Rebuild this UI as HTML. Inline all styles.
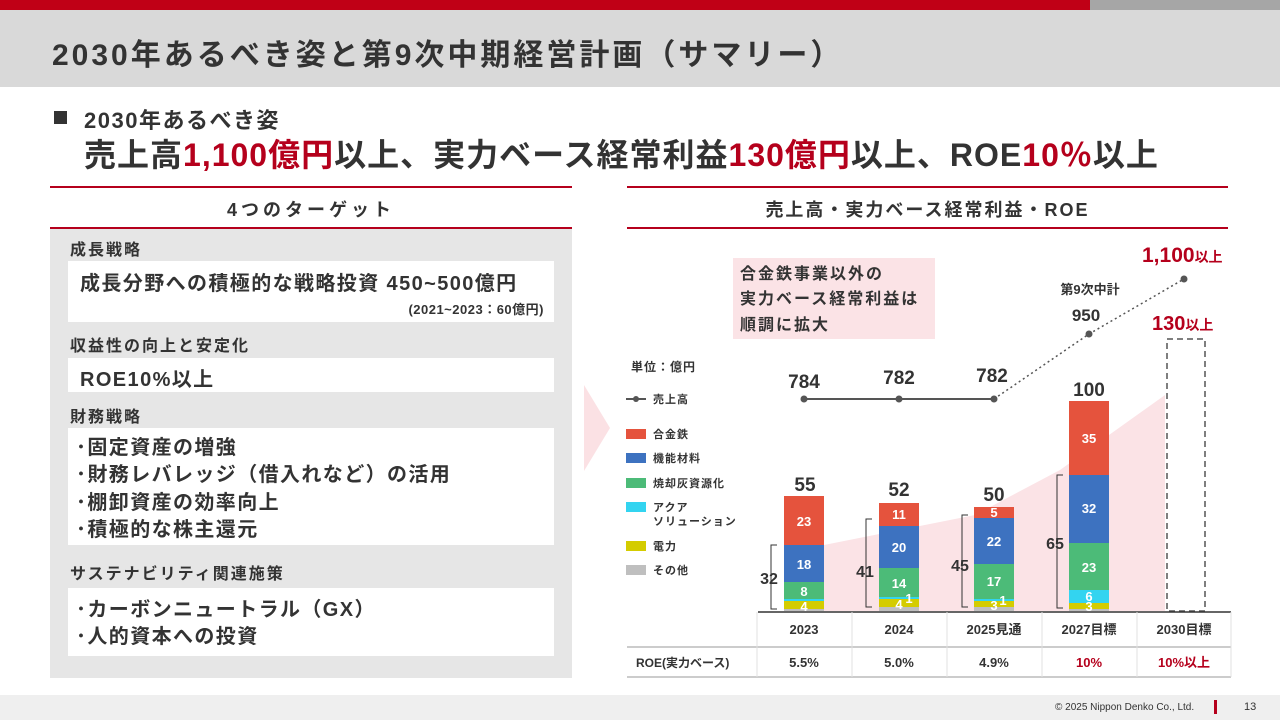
<!DOCTYPE html>
<html><head><meta charset="utf-8">
<style>
*{margin:0;padding:0;box-sizing:border-box}
body{width:1280px;height:720px;position:relative;background:#fff;font-family:"Liberation Sans","Noto Sans CJK JP",sans-serif;color:#333;overflow:hidden}
.a{position:absolute;white-space:nowrap}
.b{font-weight:bold}
.box{position:absolute;background:#fff;left:68px;width:486px}
.lbl{position:absolute;left:70px;font-size:16px;font-weight:bold;color:#333;letter-spacing:2px;white-space:nowrap}
.li{font-size:20px;font-weight:bold;position:absolute;left:80px;letter-spacing:1.4px;white-space:nowrap}
</style></head><body>
<div class="a" style="left:0;top:0;width:1090px;height:10px;background:#c00016"></div>
<div class="a" style="left:1090px;top:0;width:190px;height:10px;background:#a6a6a6"></div>
<div class="a" style="left:0;top:10px;width:1280px;height:77px;background:#d9d9d9"></div>
<div class="a b" style="left:52px;top:30px;font-size:30px;color:#333;letter-spacing:3px">2030年あるべき姿と第9次中期経営計画（サマリー）</div>

<div class="a" style="left:54px;top:111px;width:13px;height:13px;background:#333"></div>
<div class="a b" style="left:84px;top:103px;font-size:22px;letter-spacing:1.5px">2030年あるべき姿</div>
<div class="a b" style="left:84px;top:130px;font-size:32px;letter-spacing:1px">売上高<span style="color:#b5001c">1,100億円</span>以上、実力ベース経常利益<span style="color:#b5001c">130億円</span>以上、ROE<span style="color:#b5001c">10％</span>以上</div>

<div class="a" style="left:50px;top:186px;width:522px;height:2px;background:#b5001c"></div>
<div class="a b" style="left:50px;top:196px;width:522px;text-align:center;font-size:18px;letter-spacing:4px">4つのターゲット</div>
<div class="a" style="left:50px;top:227px;width:522px;height:2px;background:#b5001c"></div>
<div class="a" style="left:50px;top:229px;width:522px;height:449px;background:#e6e6e6"></div>
<div class="lbl" style="top:236px">成長戦略</div>
<div class="box" style="top:261px;height:61px"></div>
<div class="li" style="top:267px">成長分野への積極的な戦略投資 450~500億円</div>
<div class="a b" style="right:736px;top:299px;font-size:13px;letter-spacing:0.5px">(2021~2023：60億円)</div>
<div class="lbl" style="top:332px">収益性の向上と安定化</div>
<div class="box" style="top:358px;height:34px"></div>
<div class="li" style="top:363px">ROE10%以上</div>
<div class="lbl" style="top:403px">財務戦略</div>
<div class="box" style="top:428px;height:117px"></div>
<div class="li" style="top:431px;left:76px">･固定資産の増強</div>
<div class="li" style="top:458px;left:76px">･財務レバレッジ（借入れなど）の活用</div>
<div class="li" style="top:486px;left:76px">･棚卸資産の効率向上</div>
<div class="li" style="top:513px;left:76px">･積極的な株主還元</div>
<div class="lbl" style="top:560px">サステナビリティ関連施策</div>
<div class="box" style="top:588px;height:68px"></div>
<div class="li" style="top:593px;left:76px">･カーボンニュートラル（GX）</div>
<div class="li" style="top:620px;left:76px">･人的資本への投資</div>

<div class="a" style="left:627px;top:186px;width:601px;height:2px;background:#b5001c"></div>
<div class="a b" style="left:627px;top:196px;width:601px;text-align:center;font-size:18px;letter-spacing:2px">売上高・実力ベース経常利益・ROE</div>
<div class="a" style="left:627px;top:227px;width:601px;height:2px;background:#b5001c"></div>

<svg class="a" style="left:0;top:0" width="1280" height="720" font-family="Liberation Sans, Noto Sans CJK JP, sans-serif">
<polygon points="584,385 610,428 584,471 584,471" fill="#fbe1e4"/>
<polygon points="824,611 824,545 975,515 1060,470 1165,395 1165,611" fill="#fbe3e6"/>
<rect x="733" y="258" width="202" height="81" fill="#fbe3e6"/>
<g font-size="16" font-weight="bold" fill="#333" letter-spacing="2">
<text x="740" y="279">合金鉄事業以外の</text>
<text x="740" y="304">実力ベース経常利益は</text>
<text x="740" y="330">順調に拡大</text>
</g>
<g font-size="11" fill="#333" font-weight="bold" letter-spacing="1">
<text x="631" y="371" font-size="12">単位：億円</text>
<line x1="626" y1="399" x2="646" y2="399" stroke="#555" stroke-width="2"/><circle cx="636" cy="399" r="3" fill="#555"/>
<text x="653" y="403">売上高</text>
<rect x="626" y="429" width="20" height="10" fill="#e5533d"/><text x="653" y="438">合金鉄</text>
<rect x="626" y="453" width="20" height="10" fill="#3d72c0"/><text x="653" y="462">機能材料</text>
<rect x="626" y="478" width="20" height="10" fill="#4cbb78"/><text x="653" y="487">焼却灰資源化</text>
<rect x="626" y="502" width="20" height="10" fill="#33d4f0"/><text x="653" y="511">アクア</text><text x="653" y="525">ソリューション</text>
<rect x="626" y="541" width="20" height="10" fill="#d4cc00"/><text x="653" y="550">電力</text>
<rect x="626" y="565" width="20" height="10" fill="#bfbfbf"/><text x="653" y="574">その他</text>
</g>
<g>
<rect x="784" y="609" width="40" height="2" fill="#bfbfbf"/>
<rect x="784" y="601" width="40" height="8" fill="#d4cc00"/>
<rect x="784" y="599" width="40" height="2" fill="#33d4f0"/>
<rect x="784" y="582" width="40" height="17" fill="#4cbb78"/>
<rect x="784" y="545" width="40" height="37" fill="#3d72c0"/>
<rect x="784" y="496" width="40" height="49" fill="#e5533d"/>
<rect x="879" y="607" width="40" height="4" fill="#bfbfbf"/>
<rect x="879" y="599" width="40" height="8" fill="#d4cc00"/>
<rect x="879" y="597" width="40" height="2" fill="#33d4f0"/>
<rect x="879" y="568" width="40" height="29" fill="#4cbb78"/>
<rect x="879" y="526" width="40" height="42" fill="#3d72c0"/>
<rect x="879" y="503" width="40" height="23" fill="#e5533d"/>
<rect x="974" y="607" width="40" height="4" fill="#bfbfbf"/>
<rect x="974" y="601" width="40" height="6" fill="#d4cc00"/>
<rect x="974" y="599" width="40" height="2" fill="#33d4f0"/>
<rect x="974" y="564" width="40" height="35" fill="#4cbb78"/>
<rect x="974" y="518" width="40" height="46" fill="#3d72c0"/>
<rect x="974" y="507" width="40" height="11" fill="#e5533d"/>
<rect x="1069" y="609" width="40" height="2" fill="#bfbfbf"/>
<rect x="1069" y="603" width="40" height="6" fill="#d4cc00"/>
<rect x="1069" y="590" width="40" height="13" fill="#33d4f0"/>
<rect x="1069" y="543" width="40" height="47" fill="#4cbb78"/>
<rect x="1069" y="475" width="40" height="68" fill="#3d72c0"/>
<rect x="1069" y="401" width="40" height="74" fill="#e5533d"/>
<rect x="1167" y="339" width="38" height="272" fill="none" stroke="#555" stroke-width="1.5" stroke-dasharray="6,4"/>
</g>
<g font-size="13" font-weight="bold" fill="#fff" text-anchor="middle">
<text x="804" y="526">23</text><text x="804" y="569">18</text><text x="804" y="596">8</text><text x="804" y="611">4</text>
<text x="899" y="519">11</text><text x="899" y="552">20</text><text x="899" y="588">14</text><text x="899" y="609">4</text><text x="909" y="603">1</text>
<text x="994" y="517">5</text><text x="994" y="546">22</text><text x="994" y="586">17</text><text x="994" y="610">3</text><text x="1003" y="605">1</text>
<text x="1089" y="443">35</text><text x="1089" y="513">32</text><text x="1089" y="572">23</text><text x="1089" y="601">6</text><text x="1089" y="611">3</text>
</g>
<g fill="none" stroke="#333" stroke-width="1">
<path d="M777,545 H771 V609 H777"/>
<path d="M872,519 H866 V607 H872"/>
<path d="M968,515 H962 V607 H968"/>
<path d="M1063,475 H1057 V608 H1063"/>
</g>
<g font-size="16" font-weight="bold" fill="#333" text-anchor="middle">
<text x="769" y="584">32</text><text x="865" y="577">41</text><text x="960" y="571">45</text><text x="1055" y="549">65</text>
</g>
<g font-size="19" font-weight="bold" fill="#333" text-anchor="middle">
<text x="805" y="491">55</text><text x="899" y="496">52</text><text x="994" y="501">50</text><text x="1089" y="396">100</text>
<text x="804" y="388">784</text><text x="899" y="384">782</text><text x="992" y="382">782</text>
<text x="1086" y="321" font-size="17">950</text>
</g>
<text x="1090" y="294" font-size="13" font-weight="bold" fill="#333" text-anchor="middle">第9次中計</text>
<text x="1142" y="262" font-size="21" font-weight="bold" fill="#b5001c">1,100<tspan font-size="14">以上</tspan></text>
<text x="1152" y="330" font-size="20" font-weight="bold" fill="#b5001c">130<tspan font-size="14">以上</tspan></text>
<polyline points="804,399 899,399 994,399" fill="none" stroke="#555" stroke-width="2"/>
<polyline points="994,399 1089,334 1184,279" fill="none" stroke="#555" stroke-width="1.5" stroke-dasharray="2,3"/>
<g fill="#555"><circle cx="804" cy="399" r="3.5"/><circle cx="899" cy="399" r="3.5"/><circle cx="994" cy="399" r="3.5"/><circle cx="1089" cy="334" r="3.5"/><circle cx="1184" cy="279" r="3.5"/></g>
<line x1="758" y1="612" x2="1231" y2="612" stroke="#333" stroke-width="1.5"/>
<line x1="627" y1="647" x2="1231" y2="647" stroke="#999" stroke-width="1"/>
<line x1="627" y1="677" x2="1231" y2="677" stroke="#999" stroke-width="1"/>
<g stroke="#e0e0e0"><line x1="757" y1="612" x2="757" y2="677"/><line x1="852" y1="612" x2="852" y2="677"/><line x1="947" y1="612" x2="947" y2="677"/><line x1="1042" y1="612" x2="1042" y2="677"/><line x1="1137" y1="612" x2="1137" y2="677"/><line x1="1231" y1="612" x2="1231" y2="677"/></g>
<g font-size="13" font-weight="bold" fill="#333" text-anchor="middle">
<text x="804" y="634">2023</text><text x="899" y="634">2024</text><text x="994" y="634">2025見通</text><text x="1089" y="634">2027目標</text><text x="1184" y="634">2030目標</text>
<text x="804" y="667">5.5%</text><text x="899" y="667">5.0%</text><text x="994" y="667">4.9%</text>
<text x="1089" y="667" fill="#b5001c">10%</text><text x="1184" y="667" fill="#b5001c">10%以上</text>
</g>
<text x="636" y="667" font-size="12" fill="#333" font-weight="bold">ROE(実力ベース)</text>
</svg>

<div class="a" style="left:0;top:695px;width:1280px;height:25px;background:#efefef"></div>
<div class="a" style="left:1055px;top:702px;font-size:10px;color:#333">© 2025 Nippon Denko Co., Ltd.</div>
<div class="a" style="left:1214px;top:700px;width:3px;height:14px;background:#b5001c"></div>
<div class="a" style="left:1244px;top:701px;font-size:11px;color:#333">13</div>
</body></html>
